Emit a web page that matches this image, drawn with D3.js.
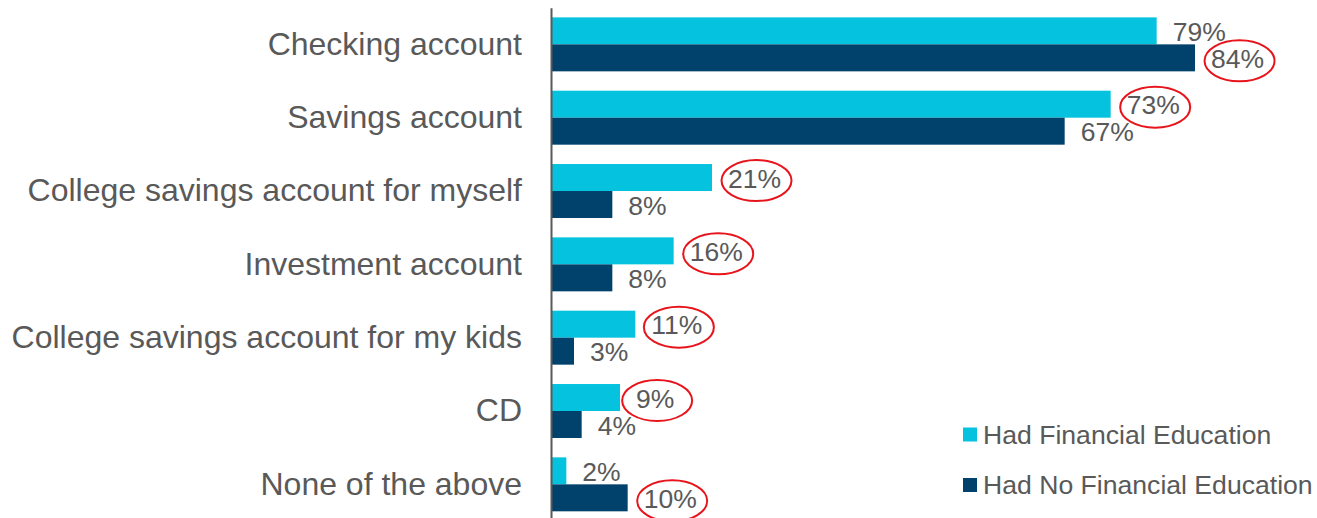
<!DOCTYPE html>
<html>
<head>
<meta charset="utf-8">
<script src="https://cdn.jsdelivr.net/npm/d3@7"></script>
<style>
  html, body { margin: 0; padding: 0; background: #fff; }
  svg { display: block; }
  text { font-family: "Liberation Sans", Arial, sans-serif; fill: #595959; }
</style>
</head>
<body>
<svg id="chart" width="1317" height="518"></svg>
<script>
const categories = [
  "Checking account",
  "Savings account",
  "College savings account for myself",
  "Investment account",
  "College savings account for my kids",
  "CD",
  "None of the above"
];
const seriesNames = ["Had Financial Education", "Had No Financial Education"];
const hadEducation = [79, 73, 21, 16, 11, 9, 2];
const noEducation = [84, 67, 8, 8, 3, 4, 10];
const circledHad = [false, true, true, true, true, true, false];
const circledNo = [true, false, false, false, false, false, true];
const colors = ["#05C3DE", "#00426B"];

const svg = d3.select("#chart");
const axisX = 551;

const x = d3.scaleLinear().domain([0, 84]).range([axisX, 1195]);
const y = d3.scaleBand().domain(categories).range([7.7, 521])
  .paddingInner(0.264).paddingOuter(0.132);
const ySub = d3.scaleBand().domain(seriesNames).range([0, y.bandwidth()]);

const rows = [];
categories.forEach((c, i) => {
  rows.push({cat: c, s: seriesNames[0], v: hadEducation[i], circ: circledHad[i], col: colors[0]});
  rows.push({cat: c, s: seriesNames[1], v: noEducation[i], circ: circledNo[i], col: colors[1]});
});

// bars
svg.append("g").selectAll("rect").data(rows).join("rect")
  .attr("x", x(0))
  .attr("y", d => y(d.cat) + ySub(d.s))
  .attr("width", d => x(d.v) - x(0))
  .attr("height", ySub.bandwidth())
  .attr("fill", d => d.col);

// value labels
const labelFont = 26.5;
const lbl = svg.append("g").selectAll("g").data(rows).join("g");
lbl.append("text")
  .attr("x", d => x(d.v) + 16)
  .attr("y", d => y(d.cat) + ySub(d.s) + ySub.bandwidth() / 2 + 1)
  .attr("dy", "0.35em")
  .style("font-size", labelFont + "px")
  .text(d => d.v + "%")
  .each(function(d) { d.tw = this.getComputedTextLength(); });

// circles around highlighted labels
lbl.filter(d => d.circ).append("ellipse")
  .attr("cx", d => x(d.v) + 16 + d.tw / 2 + 2)
  .attr("cy", d => y(d.cat) + ySub(d.s) + ySub.bandwidth() / 2 + 3)
  .attr("rx", 35)
  .attr("ry", 20.5)
  .attr("fill", "none")
  .attr("stroke", "#E8141B")
  .attr("stroke-width", 2);

// axis
const axis = d3.axisLeft(y).tickSize(0).tickPadding(29);
const gA = svg.append("g").attr("transform", `translate(${axisX},0)`).call(axis);
gA.select(".domain").attr("stroke", "#595959").attr("stroke-width", 2);
gA.selectAll(".tick text")
  .style("font-size", "32px")
  .style("font-family", '"Liberation Sans", Arial, sans-serif')
  .attr("fill", "#595959");

// legend
const legend = svg.append("g").selectAll("g").data(seriesNames).join("g")
  .attr("transform", (d, i) => `translate(963, ${434.5 + i * 50.5})`);
legend.append("rect")
  .attr("x", 0).attr("y", -7).attr("width", 14).attr("height", 14)
  .attr("fill", (d, i) => colors[i]);
legend.append("text")
  .attr("x", 20).attr("y", 0).attr("dy", "0.35em")
  .style("font-size", "26.6px")
  .text(d => d);
</script>
</body>
</html>
